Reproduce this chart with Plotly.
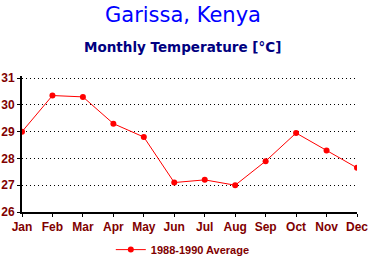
import plotly.graph_objects as go

months = ["Jan", "Feb", "Mar", "Apr", "May", "Jun", "Jul", "Aug", "Sep", "Oct", "Nov", "Dec"]
temps = [29.0, 30.35, 30.3, 29.3, 28.8, 27.1, 27.2, 27.0, 27.9, 28.95, 28.3, 27.65]
yticks = [26, 27, 28, 29, 30, 31]
series_name = "1988-1990 Average"

fig = go.Figure()
fig.add_trace(go.Scatter(
    x=months, y=temps, mode="lines+markers", name=series_name,
    line=dict(color="#FF0000", width=1),
    marker=dict(color="#FF0000", size=6),
    showlegend=True,
))

lab_font = dict(family="Liberation Sans, Arial", size=12, color="#800000", weight="bold")

fig.update_layout(
    width=369, height=262,
    margin=dict(l=22, r=12, t=76, b=50, autoexpand=False),
    paper_bgcolor="white", plot_bgcolor="white",
    showlegend=True,
    legend=dict(orientation="h", x=0.48, xanchor="center", y=-0.17, yanchor="top",
                font=dict(family="Liberation Sans, Arial", size=11, color="#800000", weight="bold"),
                bgcolor="rgba(0,0,0,0)"),
    annotations=[
        dict(text="Garissa, Kenya", xref="paper", yref="paper", x=0.48, y=1.0,
             yshift=61, xanchor="center", yanchor="middle", showarrow=False,
             font=dict(family="DejaVu Sans", size=21, color="#0000FF")),
        dict(text="<b>Monthly Temperature [°C]</b>", xref="paper", yref="paper", x=0.48, y=1.0,
             yshift=29, xanchor="center", yanchor="middle", showarrow=False,
             font=dict(family="DejaVu Sans", size=13.5, color="#000080")),
    ],
)
fig.update_xaxes(
    type="category", range=[0, 11], showgrid=False, automargin=False,
    showline=True, linecolor="black", linewidth=2,
    ticks="outside", ticklen=3, tickcolor="black", tickwidth=1,
    tickfont=lab_font,
)
fig.update_yaxes(
    range=[26, 31.08], tickvals=yticks, showgrid=True, automargin=False,
    gridcolor="black", griddash="1px,3px", gridwidth=1,
    showline=True, linecolor="black", linewidth=2,
    ticks="outside", ticklen=3, tickcolor="black",
    tickfont=lab_font,
    zeroline=False,
)

fig.write_html("out.html", config={"displayModeBar": False},
               post_script="document.body.style.margin='0px';")
